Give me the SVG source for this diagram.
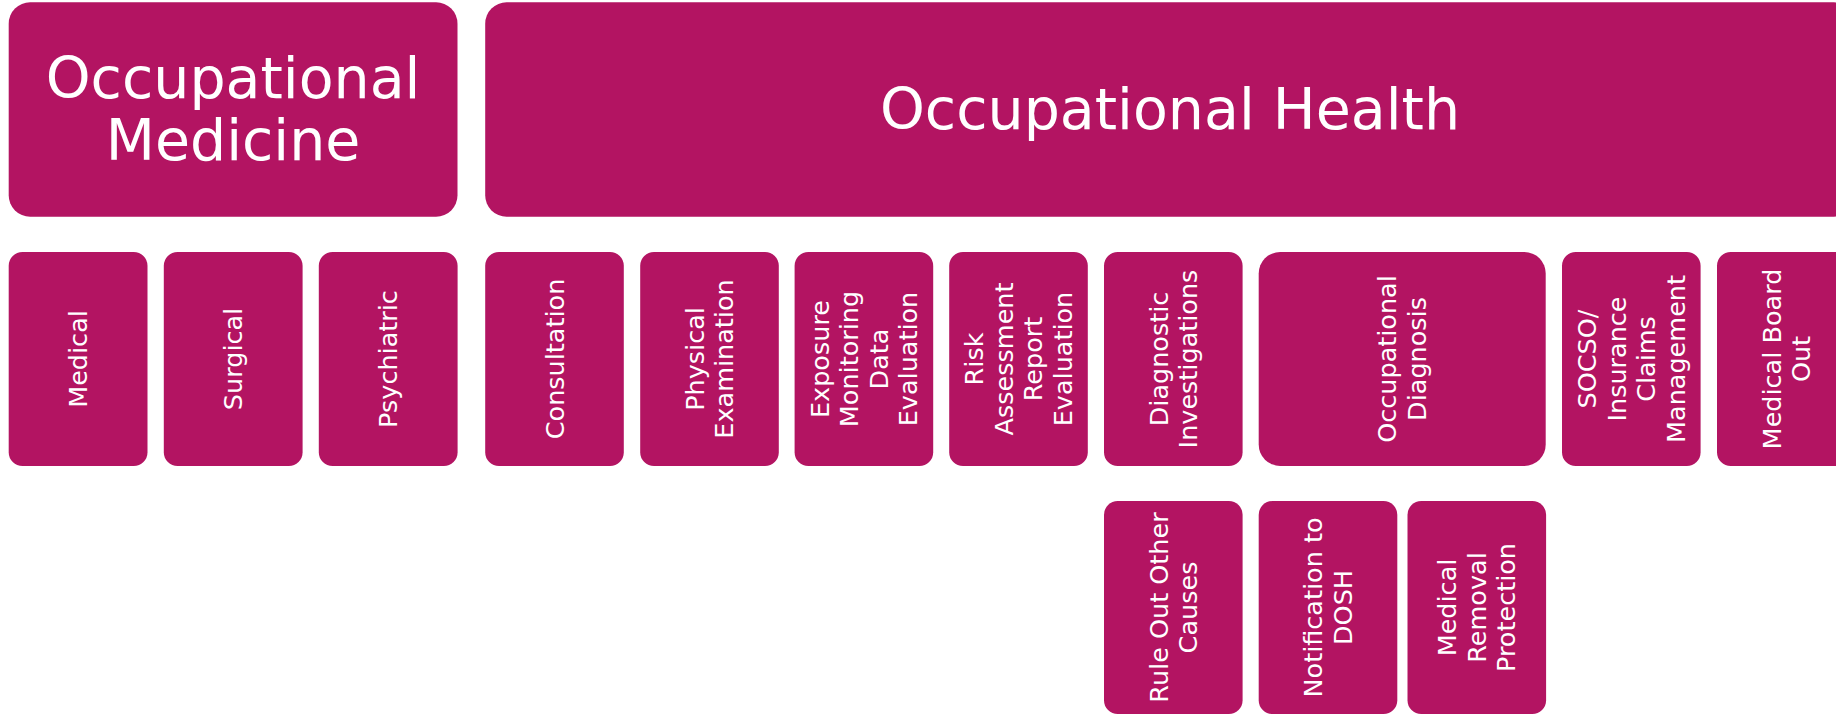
<svg xmlns="http://www.w3.org/2000/svg" width="1836" height="717" viewBox="0 0 1836 717">
<style>
.box{fill:#B31462;}
.t{font-family:"DejaVu Sans","Liberation Sans",sans-serif;fill:#FFFFFF;text-anchor:middle;}
.big{font-size:57px;}
.v{font-size:25.5px;}
</style>
<rect x="0" y="0" width="1836" height="717" fill="#FFFFFF"/>
<g id="connectors"></g>
<g id="occupational-medicine">
<rect class="box" x="8.7" y="2.3" width="448.8" height="214.4" rx="21.4"/>
<text class="t big"><tspan x="233.1" y="98">Occupational</tspan><tspan x="233.1" y="159.5">Medicine</tspan></text>
</g>
<g id="occupational-health">
<rect class="box" x="485.2" y="2.3" width="1370" height="214.4" rx="21.4"/>
<text class="t big" x="1170" y="129">Occupational Health</text>
</g>
<g id="medical">
<rect class="box" x="8.7" y="252" width="138.8" height="214" rx="13.8"/>
<text class="t v" transform="translate(78.1,359) rotate(-90)"><tspan x="0" y="9">Medical</tspan></text>
</g>
<g id="surgical">
<rect class="box" x="163.8" y="252" width="138.8" height="214" rx="13.8"/>
<text class="t v" transform="translate(233.2,359) rotate(-90)"><tspan x="0" y="9">Surgical</tspan></text>
</g>
<g id="psychiatric">
<rect class="box" x="318.8" y="252" width="138.8" height="214" rx="13.8"/>
<text class="t v" transform="translate(388.2,359) rotate(-90)"><tspan x="0" y="9">Psychiatric</tspan></text>
</g>
<g id="consultation">
<rect class="box" x="485.2" y="252" width="138.6" height="214" rx="13.8"/>
<text class="t v" transform="translate(554.5,359) rotate(-90)"><tspan x="0" y="9">Consultation</tspan></text>
</g>
<g id="physical-examination">
<rect class="box" x="640.2" y="252" width="138.6" height="214" rx="13.8"/>
<text class="t v" transform="translate(709.5,359) rotate(-90)"><tspan x="0" y="-5.75">Physical</tspan><tspan x="0" y="23.75">Examination</tspan></text>
</g>
<g id="exposure-monitoring">
<rect class="box" x="794.6" y="252" width="138.6" height="214" rx="13.8"/>
<text class="t v" transform="translate(863.9,359) rotate(-90)"><tspan x="0" y="-35.25">Exposure</tspan><tspan x="0" y="-5.75">Monitoring</tspan><tspan x="0" y="23.75">Data</tspan><tspan x="0" y="53.25">Evaluation</tspan></text>
</g>
<g id="risk-assessment">
<rect class="box" x="949.2" y="252" width="138.6" height="214" rx="13.8"/>
<text class="t v" transform="translate(1018.5,359) rotate(-90)"><tspan x="0" y="-35.25">Risk</tspan><tspan x="0" y="-5.75">Assessment</tspan><tspan x="0" y="23.75">Report</tspan><tspan x="0" y="53.25">Evaluation</tspan></text>
</g>
<g id="diagnostic-investigations">
<rect class="box" x="1104" y="252" width="138.6" height="214" rx="13.8"/>
<text class="t v" transform="translate(1173.3,359) rotate(-90)"><tspan x="0" y="-5.75">Diagnostic</tspan><tspan x="0" y="23.75">Investigations</tspan></text>
</g>
<g id="occupational-diagnosis">
<rect class="box" x="1258.7" y="252" width="287" height="214" rx="21.4"/>
<text class="t v" transform="translate(1402.2,359) rotate(-90)"><tspan x="0" y="-5.75">Occupational</tspan><tspan x="0" y="23.75">Diagnosis</tspan></text>
</g>
<g id="socso-insurance">
<rect class="box" x="1562" y="252" width="138.6" height="214" rx="13.8"/>
<text class="t v" transform="translate(1631.3,359) rotate(-90)"><tspan x="0" y="-35.25">SOCSO/</tspan><tspan x="0" y="-5.75">Insurance</tspan><tspan x="0" y="23.75">Claims</tspan><tspan x="0" y="53.25">Management</tspan></text>
</g>
<g id="medical-board-out">
<rect class="box" x="1717" y="252" width="138.6" height="214" rx="13.8"/>
<text class="t v" transform="translate(1786.3,359) rotate(-90)"><tspan x="0" y="-5.75">Medical Board</tspan><tspan x="0" y="23.75">Out</tspan></text>
</g>
<g id="rule-out-other-causes">
<rect class="box" x="1104" y="501" width="138.6" height="213" rx="13.8"/>
<text class="t v" transform="translate(1173.3,607.5) rotate(-90)"><tspan x="0" y="-5.75">Rule Out Other</tspan><tspan x="0" y="23.75">Causes</tspan></text>
</g>
<g id="notification-dosh">
<rect class="box" x="1258.7" y="501" width="138.6" height="213" rx="13.8"/>
<text class="t v" transform="translate(1328,607.5) rotate(-90)"><tspan x="0" y="-5.75">Notification to</tspan><tspan x="0" y="23.75">DOSH</tspan></text>
</g>
<g id="medical-removal-protection">
<rect class="box" x="1407.5" y="501" width="138.6" height="213" rx="13.8"/>
<text class="t v" transform="translate(1476.8,607.5) rotate(-90)"><tspan x="0" y="-20.5">Medical</tspan><tspan x="0" y="9">Removal</tspan><tspan x="0" y="38.5">Protection</tspan></text>
</g>
</svg>
